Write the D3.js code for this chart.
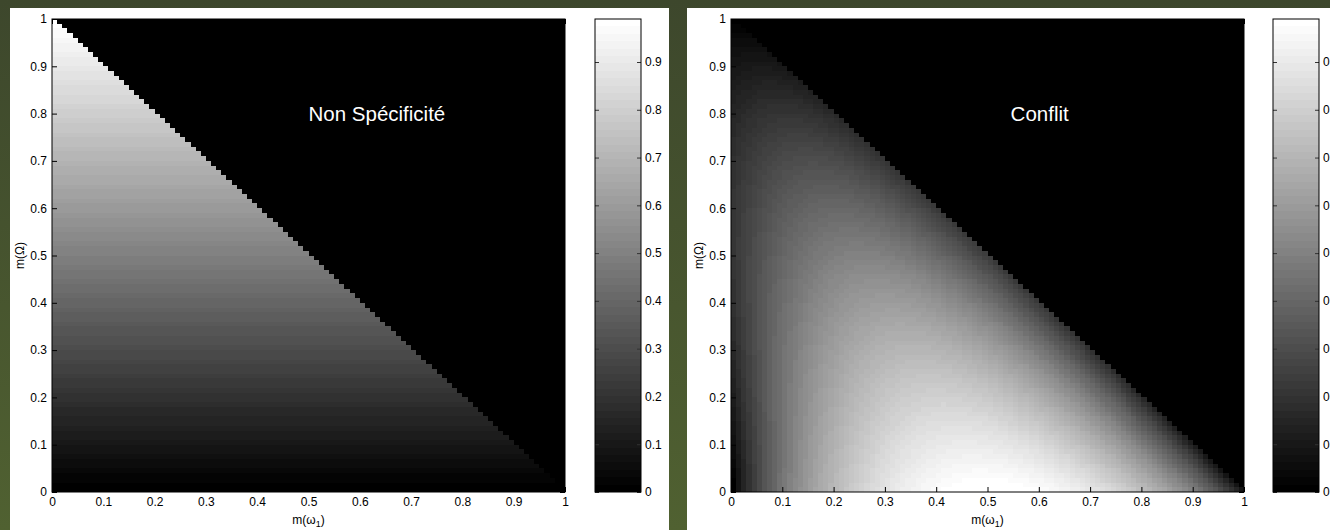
<!DOCTYPE html>
<html>
<head>
<meta charset="utf-8">
<script src="https://cdn.jsdelivr.net/npm/d3@7"></script>
<style>
  html, body { margin: 0; padding: 0; background: #46532e; }
  svg { display: block; }
  text { font-family: "Liberation Sans", Arial, Helvetica, sans-serif; }
</style>
</head>
<body>
<script>
const WIDTH = 1330;
const HEIGHT = 530;

// sampling grid of the masses m(w1) and m(Omega), step 0.01
const massGrid = [
  0.00, 0.01, 0.02, 0.03, 0.04, 0.05, 0.06, 0.07, 0.08, 0.09,
  0.10, 0.11, 0.12, 0.13, 0.14, 0.15, 0.16, 0.17, 0.18, 0.19,
  0.20, 0.21, 0.22, 0.23, 0.24, 0.25, 0.26, 0.27, 0.28, 0.29,
  0.30, 0.31, 0.32, 0.33, 0.34, 0.35, 0.36, 0.37, 0.38, 0.39,
  0.40, 0.41, 0.42, 0.43, 0.44, 0.45, 0.46, 0.47, 0.48, 0.49,
  0.50, 0.51, 0.52, 0.53, 0.54, 0.55, 0.56, 0.57, 0.58, 0.59,
  0.60, 0.61, 0.62, 0.63, 0.64, 0.65, 0.66, 0.67, 0.68, 0.69,
  0.70, 0.71, 0.72, 0.73, 0.74, 0.75, 0.76, 0.77, 0.78, 0.79,
  0.80, 0.81, 0.82, 0.83, 0.84, 0.85, 0.86, 0.87, 0.88, 0.89,
  0.90, 0.91, 0.92, 0.93, 0.94, 0.95, 0.96, 0.97, 0.98, 0.99
];
const axisTicks = [0, 0.1, 0.2, 0.3, 0.4, 0.5, 0.6, 0.7, 0.8, 0.9, 1];
const barTicks = [0, 0.1, 0.2, 0.3, 0.4, 0.5, 0.6, 0.7, 0.8, 0.9];
const colorLimits = [0, 0.99];
const titles = ["Non Spécificité", "Conflit"];

// measures of a mass function on {w1, w2}: m(w1)=a, m(Omega)=c, m(w2)=1-a-c
function nonSpecificity(a, c) {
    return c;
}
function discord(a, c) {
    let b = Math.max(0, 1 - a - c);
    let t = (m, p) => m > 0 ? -m * Math.log2(p) : 0;
    return t(a, a + c / 2) + t(b, b + c / 2);
}
const measures = [nonSpecificity, discord];

// 64 level gray colormap
const grays = d3.range(64).map(k => {
    let g = Math.round(k / 63 * 255);
    return d3.rgb(g, g, g).formatHex();
});
const color = d3.scaleQuantize().domain(colorLimits).range(grays);

const svg = d3.select("body").append("svg")
    .attr("width", WIDTH)
    .attr("height", HEIGHT);

// olive background
const grad = svg.append("defs").append("linearGradient")
    .attr("id", "bg").attr("x1", 0).attr("y1", 0).attr("x2", 0).attr("y2", 1);
grad.append("stop").attr("offset", "0%").attr("stop-color", "#3d472c");
grad.append("stop").attr("offset", "100%").attr("stop-color", "#506131");
svg.append("rect").attr("width", WIDTH).attr("height", HEIGHT).attr("fill", "url(#bg)");

// panel layout
const panelLeft = [10, 687];
const panelWidth = [659, 643];
const plotLeft = [52, 731];
const barLeft = [595, 1273];
const titlePos = [[0.5, 0.8], [0.545, 0.8]];
const PLOT_W = 513, TOP = 19, BOTTOM = 492, BAR_W = 46;

panelLeft.forEach((px, p) => {
    svg.append("rect")
        .attr("x", px).attr("y", 8)
        .attr("width", panelWidth[p]).attr("height", HEIGHT - 8)
        .attr("fill", "white");

    let x = d3.scaleLinear().domain([0, 1]).range([plotLeft[p], plotLeft[p] + PLOT_W]);
    let y = d3.scaleLinear().domain([0, 1]).range([BOTTOM, TOP]);
    let g = svg.append("g");

    // masked part is black
    g.append("rect")
        .attr("x", x(0)).attr("y", y(1))
        .attr("width", x(1) - x(0)).attr("height", y(0) - y(1))
        .attr("fill", "black");

    let cells = [];
    massGrid.forEach((a, i) => {
        massGrid.forEach((c, j) => {
            if (i + j < massGrid.length) cells.push({ a: a, c: c, v: measures[p](a, c) });
        });
    });
    let cw = x(massGrid[1]) - x(massGrid[0]);
    let ch = y(massGrid[0]) - y(massGrid[1]);
    g.append("g").attr("shape-rendering", "crispEdges")
        .selectAll("rect").data(cells).enter().append("rect")
        .attr("x", d => x(d.a))
        .attr("y", d => y(d.c) - ch)
        .attr("width", cw)
        .attr("height", ch)
        .attr("fill", d => color(d.v));

    // axes with inward ticks
    let fmt = d => String(d);
    let ax = [
        [d3.axisBottom(x).tickFormat(fmt), `translate(0,${BOTTOM})`],
        [d3.axisTop(x).tickFormat(""), `translate(0,${TOP})`],
        [d3.axisLeft(y).tickFormat(fmt), `translate(${plotLeft[p]},0)`],
        [d3.axisRight(y).tickFormat(""), `translate(${plotLeft[p] + PLOT_W},0)`]
    ];
    ax.forEach(([axis, tr]) => {
        let a = g.append("g").attr("transform", tr)
            .call(axis.tickValues(axisTicks).tickSizeInner(-5).tickSizeOuter(0).tickPadding(5));
        a.select(".domain").remove();
        a.selectAll("line").attr("stroke", "black");
        a.selectAll("text").attr("font-size", 12).attr("fill", "black")
            .attr("font-family", "'Liberation Sans', Arial, sans-serif");
    });
    g.append("rect")
        .attr("x", x(0)).attr("y", y(1))
        .attr("width", x(1) - x(0)).attr("height", y(0) - y(1))
        .attr("fill", "none").attr("stroke", "black").attr("stroke-width", 1);

    // axis labels
    let xl = g.append("text")
        .attr("x", x(0.5)).attr("y", 524)
        .attr("text-anchor", "middle").attr("font-size", 12);
    xl.append("tspan").text("m(ω");
    xl.append("tspan").attr("font-size", 9).attr("dy", 3).text("1");
    xl.append("tspan").attr("dy", -3).text(")");

    g.append("text")
        .attr("transform", `translate(${plotLeft[p] - 28},${(TOP + BOTTOM) / 2}) rotate(-90)`)
        .attr("text-anchor", "middle").attr("font-size", 12)
        .text("m(Ω)");

    // title
    g.append("text")
        .attr("x", x(titlePos[p][0])).attr("y", y(titlePos[p][1]))
        .attr("dy", "0.35em")
        .attr("font-size", 20.5).attr("fill", "white")
        .text(titles[p]);

    // colorbar
    let cy = d3.scaleLinear().domain(colorLimits).range([BOTTOM, TOP]);
    let bar = svg.append("g");
    let step = (colorLimits[1] - colorLimits[0]) / grays.length;
    bar.append("g").attr("shape-rendering", "crispEdges")
        .selectAll("rect").data(grays).enter().append("rect")
        .attr("x", barLeft[p])
        .attr("y", (d, k) => cy(colorLimits[0] + (k + 1) * step))
        .attr("width", BAR_W)
        .attr("height", (d, k) => cy(colorLimits[0] + k * step) - cy(colorLimits[0] + (k + 1) * step))
        .attr("fill", d => d);
    let br = bar.append("g").attr("transform", `translate(${barLeft[p] + BAR_W},0)`)
        .call(d3.axisRight(cy).tickValues(barTicks).tickFormat(fmt).tickSizeInner(-4).tickSizeOuter(0).tickPadding(4));
    let bl = bar.append("g").attr("transform", `translate(${barLeft[p]},0)`)
        .call(d3.axisLeft(cy).tickValues(barTicks).tickFormat("").tickSizeInner(-4).tickSizeOuter(0));
    [br, bl].forEach(a => {
        a.select(".domain").remove();
        a.selectAll("line").attr("stroke", "#333");
        a.selectAll("text").attr("font-size", 12).attr("fill", "black")
            .attr("font-family", "'Liberation Sans', Arial, sans-serif");
    });
    bar.append("rect")
        .attr("x", barLeft[p]).attr("y", TOP)
        .attr("width", BAR_W).attr("height", BOTTOM - TOP)
        .attr("fill", "none").attr("stroke", "black");
});
</script>
</body>
</html>
